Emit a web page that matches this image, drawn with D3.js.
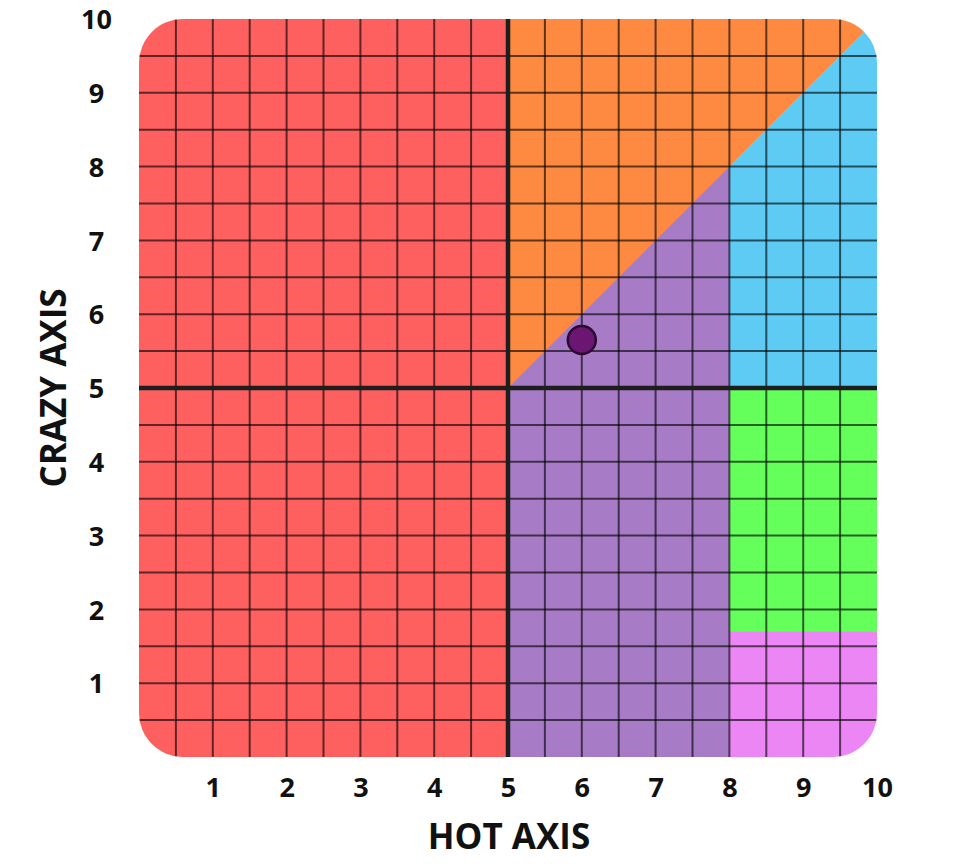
<!DOCTYPE html>
<html><head><meta charset="utf-8">
<script src="https://cdn.jsdelivr.net/npm/d3@7"></script>
<style>body{margin:0;background:#fff}svg{display:block}text{font-family:"Open Sans",sans-serif;font-weight:700;fill:#111}</style>
</head><body>
<script>
const xTicks = [1,2,3,4,5,6,7,8,9,10];
const yTicks = [1,2,3,4,5,6,7,8,9,10];
const regionNames = ["red","orange","purple","blue","green","pink"];
const regionColors = ["#FE5F5F","#FD8A40","#A77BC6","#5ECBF5","#65FF5C","#EC86F5"];
const regionShapes = [
  [[0,0],[5,0],[5,10],[0,10]],
  [[5,5],[10,10],[5,10]],
  [[5,0],[8,0],[8,8],[5,5]],
  [[8,5],[10,5],[10,10],[8,8]],
  [[8,1.7],[10,1.7],[10,5],[8,5]],
  [[8,0],[10,0],[10,1.7],[8,1.7]]
];
const pointX = [6];
const pointY = [5.65];
const xTitle = "HOT AXIS", yTitle = "CRAZY AXIS";

const W=959,H=864;
const x=d3.scaleLinear().domain([0,10]).range([139,877]);
const y=d3.scaleLinear().domain([0,10]).range([757,19]);
const svg=d3.select("body").append("svg").attr("width",W).attr("height",H);
svg.append("defs").append("clipPath").attr("id","clip").append("rect")
  .attr("x",x(0)).attr("y",y(10)).attr("width",x(10)-x(0)).attr("height",y(0)-y(10)).attr("rx",44).attr("ry",44);
const g=svg.append("g").attr("clip-path","url(#clip)");
const line=d3.line().x(d=>x(d[0])).y(d=>y(d[1]));
g.selectAll("path.region").data(regionShapes).join("path").attr("class","region")
  .attr("d",d=>line(d)+"Z").attr("fill",(d,i)=>regionColors[i]).attr("stroke",(d,i)=>regionColors[i]).attr("stroke-width",0.5);
const grid=d3.range(0.5,10,0.5).filter(v=>v!==5);
g.selectAll("line.gx").data(grid).join("line").attr("x1",d=>x(d)).attr("x2",d=>x(d)).attr("y1",y(0)).attr("y2",y(10))
  .attr("stroke","#000").attr("stroke-opacity",0.62).attr("stroke-width",2);
g.selectAll("line.gy").data(grid).join("line").attr("y1",d=>y(d)).attr("y2",d=>y(d)).attr("x1",x(0)).attr("x2",x(10))
  .attr("stroke","#000").attr("stroke-opacity",0.62).attr("stroke-width",2);
g.append("line").attr("x1",x(5)).attr("x2",x(5)).attr("y1",y(0)).attr("y2",y(10)).attr("stroke","#1e1e1e").attr("stroke-width",4.5);
g.append("line").attr("y1",y(5)).attr("y2",y(5)).attr("x1",x(0)).attr("x2",x(10)).attr("stroke","#1e1e1e").attr("stroke-width",4.5);
svg.selectAll("circle.pt").data(pointX).join("circle").attr("cx",(d)=>x(d)).attr("cy",(d,i)=>y(pointY[i])).attr("r",14)
  .attr("fill","#6B1673").attr("stroke","#2a0a2e").attr("stroke-width",2.5);
// axes
const xAxis=svg.append("g").attr("transform",`translate(0,${y(0)})`).call(d3.axisBottom(x).tickValues(xTicks).tickSize(0));
xAxis.select(".domain").remove();
xAxis.selectAll("text").attr("y",40).attr("dy",0).style("font-size","27px").style("font-family","'Open Sans',sans-serif").style("font-weight","700").attr("fill","#111");
const yAxis=svg.append("g").attr("transform",`translate(${x(0)},0)`).call(d3.axisLeft(y).tickValues(yTicks).tickSize(0));
yAxis.select(".domain").remove();
yAxis.selectAll("text").attr("x",96.5-139).attr("dy","0.36em").style("font-size","27px").style("font-family","'Open Sans',sans-serif").style("font-weight","700").attr("fill","#111").attr("text-anchor","middle");
svg.append("text").attr("x",509).attr("y",849).attr("text-anchor","middle").style("font-size","35px").text(xTitle);
svg.append("text").attr("transform",`translate(66,${388}) rotate(-90)`).attr("text-anchor","middle").style("font-size","35px").text(yTitle);
</script>
</body></html>
